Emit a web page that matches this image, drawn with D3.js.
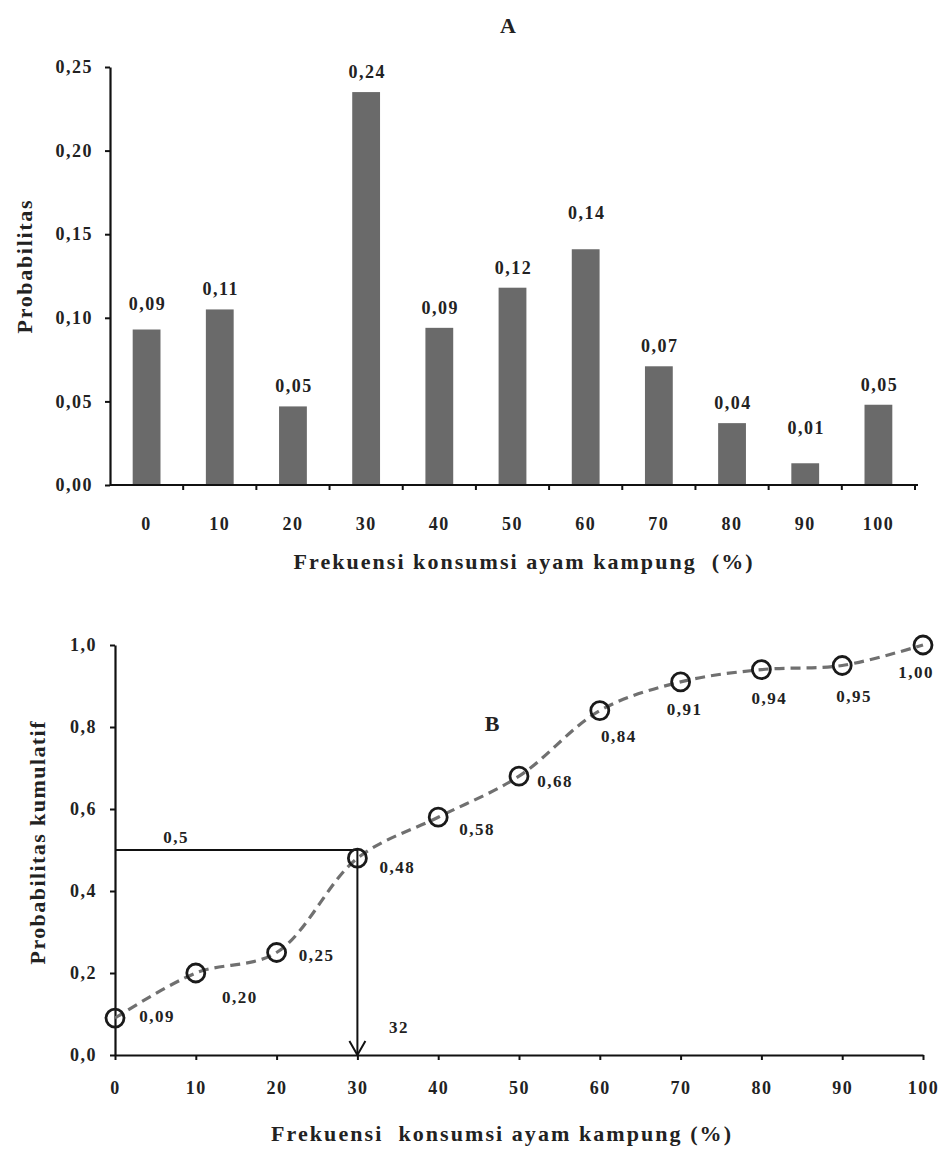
<!DOCTYPE html>
<html>
<head>
<meta charset="utf-8">
<script src="https://cdn.jsdelivr.net/npm/d3@7"></script>
<style>
body { margin: 0; background: #fff; }
text { font-family: "Liberation Serif", "Times New Roman", serif; font-weight: bold; fill: #222; white-space: pre; }
</style>
</head>
<body>
<div id="chart"></div>
<script>
// Panel A: probability of each consumption frequency class
var categories = ["0", "10", "20", "30", "40", "50", "60", "70", "80", "90", "100"];
var probValues = [0.093, 0.105, 0.047, 0.235, 0.094, 0.118, 0.141, 0.071, 0.037, 0.013, 0.048];
var probLabels = ["0,09", "0,11", "0,05", "0,24", "0,09", "0,12", "0,14", "0,07", "0,04", "0,01", "0,05"];
var probTicks = [0, 0.05, 0.10, 0.15, 0.20, 0.25];

// Panel B: cumulative probability
var freqValues = [0, 10, 20, 30, 40, 50, 60, 70, 80, 90, 100];
var cumValues = [0.09, 0.20, 0.25, 0.48, 0.58, 0.68, 0.84, 0.91, 0.94, 0.95, 1.00];
var cumLabels = ["0,09", "0,20", "0,25", "0,48", "0,58", "0,68", "0,84", "0,91", "0,94", "0,95", "1,00"];
var cumTicks = [0, 0.2, 0.4, 0.6, 0.8, 1.0];
var freqTicks = [0, 10, 20, 30, 40, 50, 60, 70, 80, 90, 100];
var medianProb = 0.5;
var medianX = 30;
var medianProbLabel = "0,5";
var medianLabel = "32";

// layout tweaks for labels (pixels)
var barLabelLift = { "0": 6, "60": 16, "90": 15 };
var pointLabelOffsets = [[42, 4], [44, 30], [40, 8], [40, 15], [39, 18], [36, 11],
  [19, 31], [4, 33], [8, 34], [12, 36], [-7, 33]];

var svgWidth = 943, svgHeight = 1153;
var svg = d3.select("#chart").append("svg").attr("width", svgWidth).attr("height", svgHeight);

var comma = function (fmt) { return function (d) { return d3.format(fmt)(d).replace(".", ","); }; };

function styleAxis(g) {
  g.selectAll("path.domain").attr("stroke", "#111").attr("stroke-width", 2.2);
  g.selectAll(".tick line").attr("stroke", "#111").attr("stroke-width", 2);
  g.selectAll(".tick text").attr("font-size", 18).attr("font-family", null)
    .attr("letter-spacing", "1.5px").attr("fill", "#222");
}

// ---------------- Panel A ----------------
var xA = d3.scaleBand().domain(categories).range([110, 915]).paddingInner(0.62).paddingOuter(0.31);
var yA = d3.scaleLinear().domain([0, 0.25]).range([485, 67]);

var gA = svg.append("g");

gA.selectAll("rect.bar").data(probValues).enter().append("rect")
  .attr("class", "bar")
  .attr("x", function (d, i) { return xA(categories[i]); })
  .attr("width", xA.bandwidth())
  .attr("y", function (d) { return yA(d); })
  .attr("height", function (d) { return yA(0) - yA(d); })
  .attr("fill", "#6a6a6a");

gA.selectAll("text.val").data(probValues).enter().append("text")
  .attr("class", "val")
  .attr("x", function (d, i) { return xA(categories[i]) + xA.bandwidth() / 2 + 1; })
  .attr("y", function (d, i) { return yA(d) - 14 - (barLabelLift[categories[i]] || 0); })
  .attr("text-anchor", "middle")
  .attr("font-size", 18)
  .attr("letter-spacing", "1.5px")
  .text(function (d, i) { return probLabels[i]; });

var yAxisA = gA.append("g").attr("transform", "translate(110,0)")
  .call(d3.axisLeft(yA).tickValues(probTicks).tickFormat(comma(".2f")).tickSize(5).tickPadding(12).tickSizeOuter(0));
styleAxis(yAxisA);

var xAxisA = gA.append("g").attr("transform", "translate(0,485)")
  .call(d3.axisBottom(xA).tickSize(0).tickPadding(32).tickSizeOuter(0));
styleAxis(xAxisA);
xAxisA.select("path.domain").attr("d", "M110,0H918");

// tick marks between classes
var stepA = xA.step();
var bounds = categories.map(function (c) { return xA(c) + xA.bandwidth() / 2 + stepA / 2; });
xAxisA.selectAll("line.sep").data(bounds).enter().append("line")
  .attr("class", "sep")
  .attr("x1", function (d) { return d; }).attr("x2", function (d) { return d; })
  .attr("y1", 0).attr("y2", 5)
  .attr("stroke", "#111").attr("stroke-width", 2);

gA.append("text").attr("x", 508).attr("y", 33).attr("text-anchor", "middle")
  .attr("font-size", 22).text("A");

gA.append("text").attr("x", 523).attr("y", 569).attr("text-anchor", "middle")
  .attr("font-size", 22).attr("textLength", 459).attr("lengthAdjust", "spacing")
  .text("Frekuensi konsumsi ayam kampung  (%)");

gA.append("text").attr("transform", "translate(32,267) rotate(-90)").attr("text-anchor", "middle")
  .attr("font-size", 22).attr("textLength", 133).attr("lengthAdjust", "spacing")
  .text("Probabilitas");

// ---------------- Panel B ----------------
var xB = d3.scaleLinear().domain([0, 100]).range([115, 923]);
var yB = d3.scaleLinear().domain([0, 1]).range([1055, 645]);

var gB = svg.append("g");

var yAxisB = gB.append("g").attr("transform", "translate(115,0)")
  .call(d3.axisLeft(yB).tickValues(cumTicks).tickFormat(comma(".1f")).tickSize(5).tickPadding(13).tickSizeOuter(0));
styleAxis(yAxisB);

var xAxisB = gB.append("g").attr("transform", "translate(0,1055)")
  .call(d3.axisBottom(xB).tickValues(freqTicks).tickSize(5).tickPadding(21).tickSizeOuter(0));
styleAxis(xAxisB);

// median reading lines
gB.append("path")
  .attr("d", "M" + xB(0) + "," + yB(medianProb) + "H" + xB(medianX) + "V" + yB(0))
  .attr("fill", "none").attr("stroke", "#111").attr("stroke-width", 2);
gB.append("path")
  .attr("d", "M" + (xB(medianX) - 8) + "," + (yB(0) - 14) + "L" + xB(medianX) + "," + yB(0) +
    "L" + (xB(medianX) + 8) + "," + (yB(0) - 14))
  .attr("fill", "none").attr("stroke", "#111").attr("stroke-width", 2);

var line = d3.line()
  .x(function (d, i) { return xB(freqValues[i]); })
  .y(function (d) { return yB(d); })
  .curve(d3.curveCatmullRom.alpha(0.5));

gB.append("path").datum(cumValues)
  .attr("d", line)
  .attr("fill", "none")
  .attr("stroke", "#707070")
  .attr("stroke-width", 3.2)
  .attr("stroke-dasharray", "10,6");

gB.selectAll("circle.pt").data(cumValues).enter().append("circle")
  .attr("class", "pt")
  .attr("cx", function (d, i) { return xB(freqValues[i]); })
  .attr("cy", function (d) { return yB(d); })
  .attr("r", 9)
  .attr("fill", "none")
  .attr("stroke", "#1a1a1a")
  .attr("stroke-width", 2.8);

gB.selectAll("text.pl").data(cumValues).enter().append("text")
  .attr("class", "pl")
  .attr("x", function (d, i) { return xB(freqValues[i]) + pointLabelOffsets[i][0]; })
  .attr("y", function (d, i) { return yB(d) + pointLabelOffsets[i][1]; })
  .attr("text-anchor", "middle")
  .attr("font-size", 17)
  .attr("letter-spacing", "1.5px")
  .text(function (d, i) { return cumLabels[i]; });

gB.append("text").attr("x", 176).attr("y", 843).attr("text-anchor", "middle")
  .attr("font-size", 17).attr("letter-spacing", "1.5px").text(medianProbLabel);
gB.append("text").attr("x", 399).attr("y", 1033).attr("text-anchor", "middle")
  .attr("font-size", 17).attr("letter-spacing", "1.5px").text(medianLabel);

gB.append("text").attr("x", 492).attr("y", 731).attr("text-anchor", "middle")
  .attr("font-size", 22).text("B");

gB.append("text").attr("x", 501).attr("y", 1141).attr("text-anchor", "middle")
  .attr("font-size", 22).attr("textLength", 460).attr("lengthAdjust", "spacing")
  .text("Frekuensi  konsumsi ayam kampung (%)");

gB.append("text").attr("transform", "translate(45,843) rotate(-90)").attr("text-anchor", "middle")
  .attr("font-size", 22).attr("textLength", 243).attr("lengthAdjust", "spacing")
  .text("Probabilitas kumulatif");
</script>
</body>
</html>
